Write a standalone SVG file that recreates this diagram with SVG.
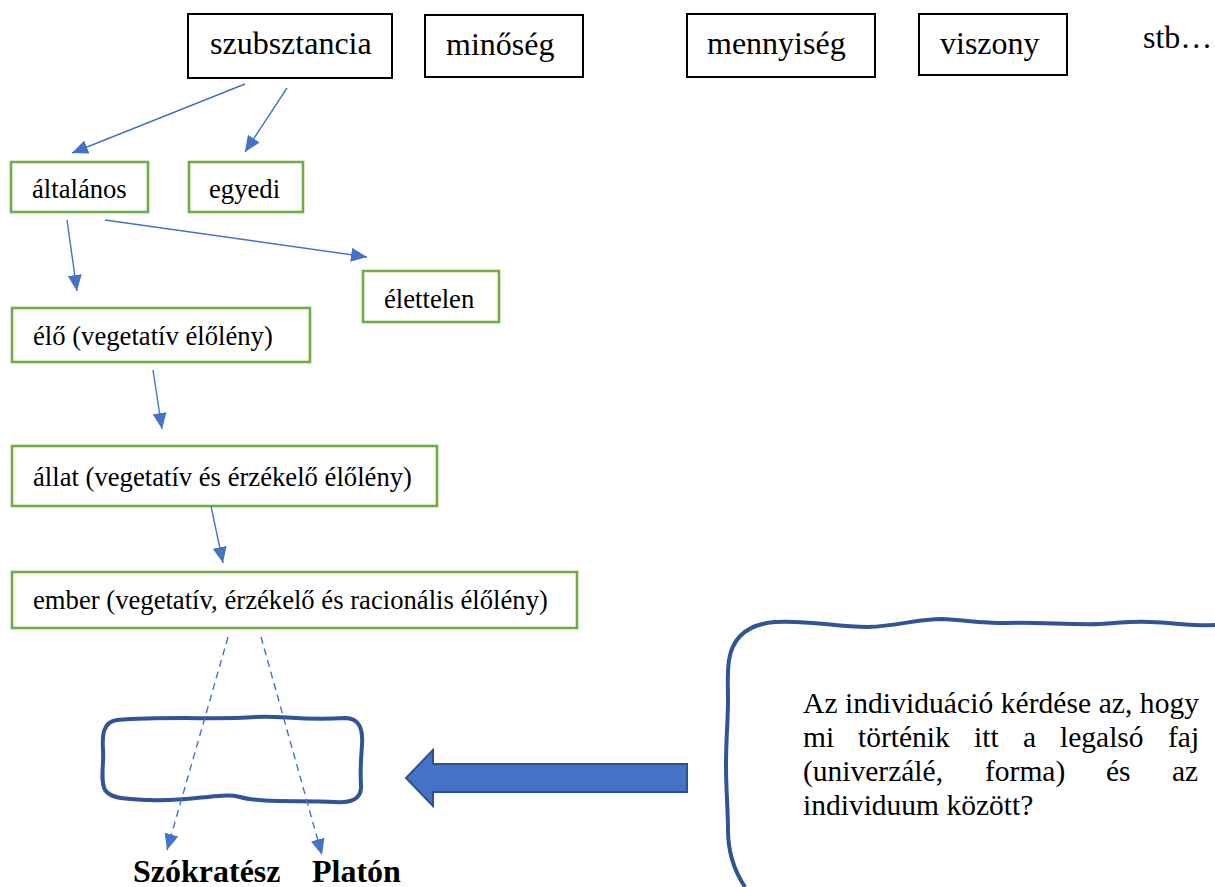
<svg xmlns="http://www.w3.org/2000/svg" width="1215" height="887" viewBox="0 0 1215 887">
<style>
.t{font-family:"Liberation Serif","DejaVu Serif",serif;fill:#000}
.top{font-size:32px}
.g{font-size:26.67px}
.q{font-size:29.5px}
.bk{fill:#fff;stroke:#000;stroke-width:2}
.gr{fill:#fff;stroke:#70AD47;stroke-width:2.6}
.con{stroke:#4472C4;stroke-width:1.4;fill:none}
.dash{stroke-dasharray:7 5}
.wave{fill:none;stroke:#2F5597;stroke-width:4;stroke-linejoin:round}
</style>
<defs>
<marker id="ah" markerUnits="userSpaceOnUse" markerWidth="18" markerHeight="14" refX="16" refY="7" orient="auto">
<path d="M0,0 L16,7 L0,14 Z" fill="#4472C4"/>
</marker>
</defs>
<rect width="1215" height="887" fill="#fff"/>
<g id="szubsztancia"><rect class="bk" x="188" y="14" width="204" height="64"/><text class="t top" x="210" y="54">szubsztancia</text></g>
<g id="minoseg"><rect class="bk" x="425" y="15" width="158" height="62"/><text class="t top" x="446" y="55">minőség</text></g>
<g id="mennyiseg"><rect class="bk" x="687" y="14" width="188" height="63"/><text class="t top" x="707" y="54">mennyiség</text></g>
<g id="viszony"><rect class="bk" x="919" y="14" width="148" height="61"/><text class="t top" x="940" y="54">viszony</text></g>
<g id="stb"><text class="t top" x="1143" y="48">stb…</text></g>
<g id="altalanos"><rect class="gr" x="11" y="162" width="137" height="50"/><text class="t g" x="32" y="198">általános</text></g>
<g id="egyedi"><rect class="gr" x="189" y="162" width="114" height="50"/><text class="t g" x="209" y="198">egyedi</text></g>
<g id="elettelen"><rect class="gr" x="363" y="271" width="136" height="51"/><text class="t g" x="384" y="308">élettelen</text></g>
<g id="elo"><rect class="gr" x="12" y="308" width="298" height="54"/><text class="t g" x="33" y="345">élő (vegetatív élőlény)</text></g>
<g id="allat"><rect class="gr" x="12" y="446" width="425" height="60"/><text class="t g" x="33" y="486">állat (vegetatív és érzékelő élőlény)</text></g>
<g id="ember"><rect class="gr" x="12" y="572" width="565" height="56"/><text class="t g" x="33" y="609">ember (vegetatív, érzékelő és racionális élőlény)</text></g>
<g id="individuum-box"><path class="wave" d="M 117,720 C 170,716 220,720 255,717 C 280,715 300,721 345,718 C 360,718 363,730 362,745 C 361,760 360,770 361,785 C 362,800 350,803 335,802 C 300,800 260,803 240,797 C 220,792 190,802 150,800 C 130,799 112,800 105,790 C 100,780 104,765 103,750 C 102,735 103,722 117,720 Z"/></g>
<g id="big-arrow"><path d="M 406,778 L 433,750 L 433,764 L 687,764 L 687,792 L 433,792 L 433,806 Z" fill="#4472C4" stroke="#2F528F" stroke-width="2" stroke-linejoin="miter"/></g>
<g id="question-box">
<path class="wave" d="M 745,887 C 735,872 728,852 728,830 C 728,810 726,790 726,765 C 726,740 728,720 728,700 C 728,685 727,675 729,660 C 733,635 750,624 775,622 C 810,620 835,627 867,627 C 900,626 915,619 942,619 C 965,620 980,623 1005,623 C 1040,622 1070,625 1100,624 C 1120,623 1130,621 1150,622 C 1175,623 1195,626 1215,625"/>
<text class="t q" x="803" y="713" textLength="396" lengthAdjust="spacing">Az individuáció kérdése az, hogy</text>
<text class="t q" y="747"><tspan x="803">mi</tspan><tspan x="858">történik</tspan><tspan x="974">itt</tspan><tspan x="1023">a</tspan><tspan x="1060">legalsó</tspan><tspan x="1168">faj</tspan></text>
<text class="t q" y="781"><tspan x="803">(univerzálé,</tspan><tspan x="985">forma)</tspan><tspan x="1106">és</tspan><tspan x="1172">az</tspan></text>
<text class="t q" x="803" y="815">individuum között?</text>
</g>
<g id="names">
<text class="t" x="133" y="882" font-size="32" font-weight="bold">Szókratész</text>
<text class="t" x="312" y="882" font-size="32" font-weight="bold">Platón</text>
</g>
<g id="connectors">
<line class="con" x1="245" y1="84" x2="72" y2="153" marker-end="url(#ah)"/>
<line class="con" x1="287" y1="88" x2="245" y2="152" marker-end="url(#ah)"/>
<line class="con" x1="67" y1="220" x2="77" y2="291" marker-end="url(#ah)"/>
<line class="con" x1="105" y1="220" x2="367" y2="257" marker-end="url(#ah)"/>
<line class="con" x1="153" y1="370" x2="162" y2="429" marker-end="url(#ah)"/>
<line class="con" x1="211" y1="506" x2="223" y2="563" marker-end="url(#ah)"/>
<line class="con dash" x1="228" y1="637" x2="167" y2="850" marker-end="url(#ah)"/>
<line class="con dash" x1="261" y1="637" x2="322" y2="855" marker-end="url(#ah)"/>
</g>
</svg>
